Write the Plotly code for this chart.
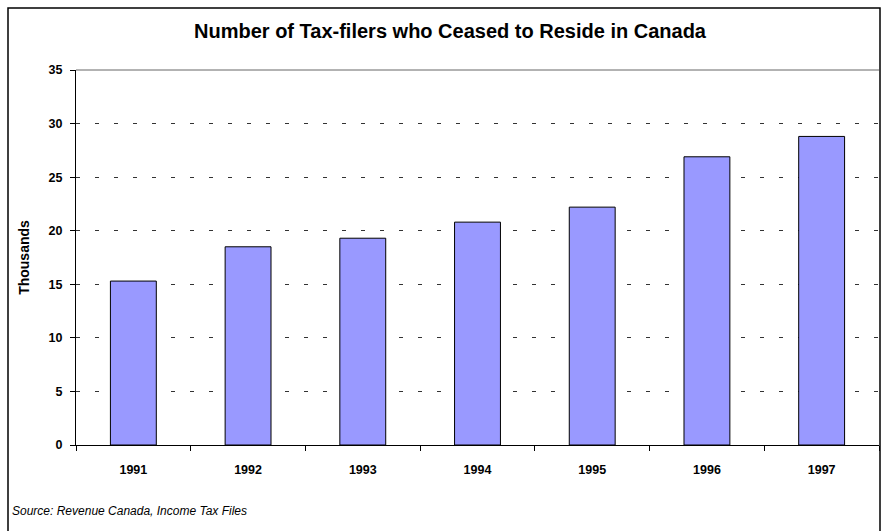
import plotly.graph_objects as go

years = ["1991", "1992", "1993", "1994", "1995", "1996", "1997"]
thousands = [15.3, 18.5, 19.3, 20.8, 22.2, 26.9, 28.8]
y_ticks = [0, 5, 10, 15, 20, 25, 30, 35]

W, H = 883, 531
L, R, T, B = 76, 879, 70, 445

def px_x(px):
    return (px - L) / (R - L)

def px_y(py):
    return (B - py) / (B - T)

font = "Arial, Liberation Sans, sans-serif"

fig = go.Figure(go.Bar(
    x=years, y=thousands,
    marker=dict(color="#9999FF", line=dict(color="black", width=1)),
    width=0.4,
))

fig.update_layout(
    width=W, height=H,
    margin=dict(l=L, r=W - R, t=T, b=H - B),
    paper_bgcolor="white", plot_bgcolor="white",
    showlegend=False,
    title=dict(text="<b>Number of Tax-filers who Ceased to Reside in Canada</b>",
               x=450 / W, xref="container", xanchor="center",
               y=1 - 31 / H, yref="container", yanchor="middle",
               font=dict(family=font, size=20, color="black")),
    font=dict(family=font, color="black"),
    xaxis=dict(
        type="category", showline=True, linecolor="black", linewidth=1,
        ticks="outside", ticklen=5, tickcolor="black", tickson="boundaries",
        tickfont=dict(family=font, size=12.5, color="black", weight="bold"),
        ticklabelstandoff=13,
        showgrid=False, zeroline=False, range=[-0.5, 6.5],
    ),
    yaxis=dict(
        range=[0, 35], tickvals=y_ticks, showline=True, linecolor="black", linewidth=1,
        ticks="outside", ticklen=5, tickcolor="black",
        tickfont=dict(family=font, size=12.5, color="black", weight="bold"),
        ticklabelstandoff=5,
        showgrid=True, gridcolor="#333333", gridwidth=1, griddash="4px,15px",
        zeroline=False,
        title=dict(text="<b>Thousands</b>", font=dict(family=font, size=14, color="black"), standoff=15),
    ),
    shapes=[
        dict(type="line", xref="paper", yref="paper", x0=0, x1=1, y0=1, y1=1,
             line=dict(color="#666666", width=1)),
        dict(type="rect", xref="paper", yref="paper",
             x0=px_x(8), x1=px_x(880), y0=px_y(532), y1=px_y(8),
             line=dict(color="black", width=1.5), fillcolor="rgba(0,0,0,0)", layer="below"),
    ],
    annotations=[
        dict(text="<i>Source: Revenue Canada, Income Tax Files</i>", xref="paper", yref="paper",
             x=px_x(10), y=px_y(511), xanchor="left", yanchor="middle", showarrow=False,
             font=dict(family=font, size=12, color="black")),
    ],
)

fig.write_html("out.html", config={"displayModeBar": False},
               post_script="document.body.style.margin='0';document.body.style.overflow='hidden';")
